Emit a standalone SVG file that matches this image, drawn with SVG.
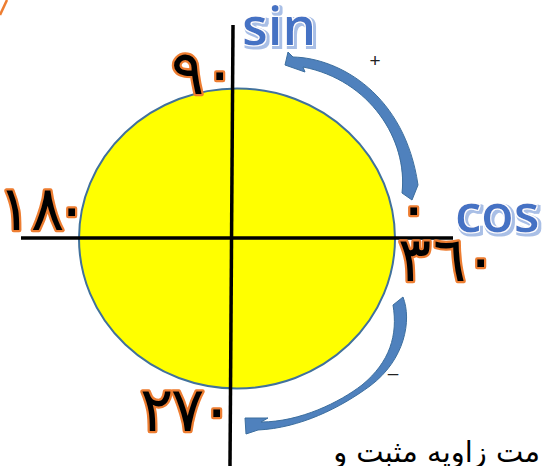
<svg xmlns="http://www.w3.org/2000/svg" width="543" height="466" viewBox="0 0 543 466">
<style>
.num{font-family:"DejaVu Sans",sans-serif;font-size:62px;fill:#000;stroke:#ED7D31;stroke-width:4.5;paint-order:stroke;stroke-linejoin:round}
.lbl{font-family:"Open Sans","Liberation Sans",sans-serif;font-weight:600;font-size:53px;fill:#4472C4;filter:url(#glow)}
.arrow{fill:#4F81BD;stroke:#3C6E9E;stroke-width:1;stroke-linejoin:round}
.axis{stroke:#000;stroke-width:3.5}
.sign{font-family:"Liberation Sans",sans-serif;font-size:19px;fill:#222}
</style>
<defs>
<filter id="glow" x="-10%" y="-10%" width="130%" height="140%">
<feMorphology in="SourceAlpha" operator="dilate" radius="2" result="d"/>
<feOffset in="d" dx="1.5" dy="2" result="o"/>
<feFlood flood-color="#A9BFE6"/>
<feComposite in2="o" operator="in" result="s"/>
<feMorphology in="SourceAlpha" operator="dilate" radius="1" result="w0"/>
<feFlood flood-color="#ffffff"/>
<feComposite in2="w0" operator="in" result="w"/>
<feMerge><feMergeNode in="s"/><feMergeNode in="w"/><feMergeNode in="SourceGraphic"/></feMerge>
</filter>
</defs>
<line x1="0" y1="15" x2="7" y2="0" stroke="#ED7D31" stroke-width="2.5"/>
<g id="circle">
<ellipse cx="237" cy="238.5" rx="158" ry="150" fill="#FFFF00" stroke="#41719C" stroke-width="2"/>
</g>
<g id="axes">
<line class="axis" x1="21" y1="238" x2="453" y2="238"/>
<line class="axis" x1="233" y1="25" x2="230" y2="466"/>
</g>
<g id="label-sin"><text class="lbl" x="242" y="45">sin</text></g>
<g id="label-cos"><text class="lbl" x="455" y="232">cos</text></g>
<g id="deg-90"><text class="num" x="171 203" y="94">٩٠</text></g>
<g id="deg-180"><text class="num" x="-2 31 55" y="230">١٨٠</text></g>
<g id="deg-0"><text class="num" x="397" y="229" font-size="70">٠</text></g>
<g id="deg-360"><text class="num" x="398 433 464" y="281">٣٦٠</text></g>
<g id="deg-270"><text class="num" x="140 171 200" y="431">٢٧٠</text></g>
<g id="arrows">
<path class="arrow" d="M285,65 L288,52 L293,57 C340,58 405,95 418,185 L412,200 L402,193 C408,140 370,80 303,67 L305,72 Z"/>
<path class="arrow" d="M393,305 L403,297 C412,320 405,360 370,386 C340,408 300,428 258,430 L246,434 L245,418 L268,418 L261,422 C300,422 340,402 362,385 C390,362 398,335 393,305 Z"/>
</g>
<text class="sign" x="375" y="67" text-anchor="middle">+</text>
<text class="sign" x="393" y="379" text-anchor="middle">–</text>
<text x="540" y="462" text-anchor="end" font-family="DejaVu Sans,sans-serif" font-size="29" fill="#000">مت زاویه مثبت و</text>
</svg>
